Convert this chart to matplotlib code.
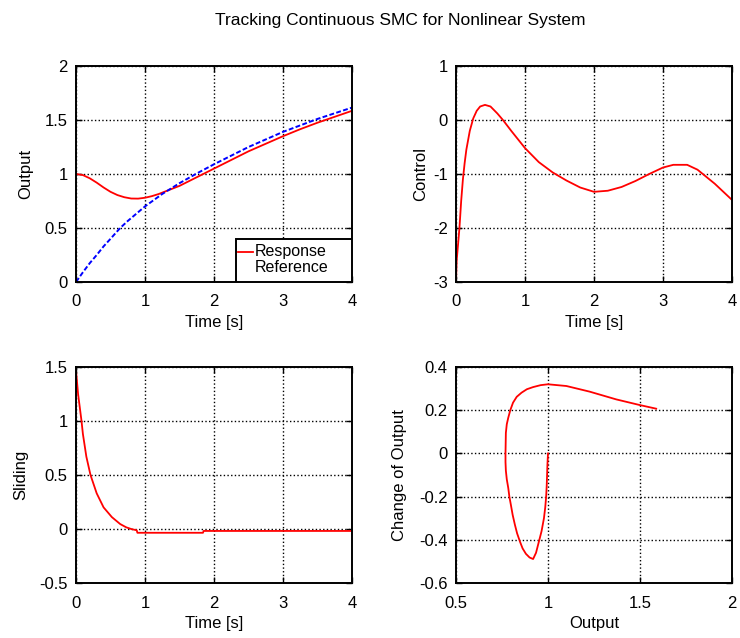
import matplotlib
matplotlib.use("Agg")
import matplotlib.pyplot as plt
from matplotlib.ticker import FormatStrFormatter
from matplotlib.patches import Rectangle

plt.rcParams['font.family'] = ['Liberation Sans', 'DejaVu Sans']
plt.rcParams['axes.unicode_minus'] = False

# ---- data ----
t_resp = [0, 0.1, 0.2, 0.3, 0.4, 0.5, 0.6, 0.7, 0.8, 0.9, 1.0, 1.1, 1.2, 1.3, 1.4,
          1.5, 1.75, 2.0, 2.25, 2.5, 2.75, 3.0, 3.25, 3.5, 3.75, 4.0]
response = [1.0, 0.99, 0.96, 0.92, 0.875, 0.835, 0.805, 0.785, 0.773, 0.772, 0.78,
            0.795, 0.815, 0.84, 0.865, 0.89, 0.97, 1.05, 1.13, 1.21, 1.28, 1.35,
            1.415, 1.475, 1.53, 1.585]

t_ref = [0, 0.1, 0.2, 0.3, 0.4, 0.5, 0.64, 0.75, 1.0, 1.25, 1.5, 1.75, 2.0, 2.5,
         3.0, 3.5, 4.0]
reference = [0.0, 0.09, 0.175, 0.25, 0.33, 0.40, 0.5, 0.565, 0.70, 0.815, 0.915,
             1.005, 1.09, 1.25, 1.39, 1.51, 1.615]

t_ctrl = [0, 0.01, 0.03, 0.05, 0.075, 0.1, 0.125, 0.15, 0.2, 0.25, 0.3, 0.35, 0.42,
          0.5, 0.6, 0.68, 0.8, 0.9, 1.0, 1.2, 1.4, 1.6, 1.8, 2.0, 2.2, 2.4, 2.6,
          2.8, 3.0, 3.15, 3.35, 3.5, 3.75, 4.0]
control = [-3.0, -2.6, -2.3, -2.0, -1.5, -1.1, -0.8, -0.55, -0.2, 0.03, 0.17,
           0.25, 0.28, 0.25, 0.12, 0.0, -0.2, -0.36, -0.52, -0.78, -0.97, -1.12,
           -1.25, -1.33, -1.31, -1.24, -1.13, -1.0, -0.88, -0.83, -0.83, -0.92,
           -1.18, -1.48]

t_slide = [0, 0.03, 0.08, 0.1, 0.15, 0.21, 0.3, 0.4, 0.52, 0.64, 0.73, 0.8, 0.88,
           0.89, 1.0, 1.5, 1.84, 1.85, 3.0, 4.0]
sliding = [1.47, 1.25, 1.0, 0.88, 0.67, 0.5, 0.33, 0.2, 0.11, 0.046, 0.015, 0.0,
           -0.012, -0.035, -0.035, -0.035, -0.035, -0.018, -0.018, -0.018]

phase_x = [1.0, 0.997, 0.995, 0.993, 0.99, 0.985, 0.978, 0.965, 0.95, 0.935,
           0.919, 0.9, 0.88, 0.862, 0.847, 0.832, 0.82, 0.808, 0.798, 0.79,
           0.784, 0.776, 0.771, 0.769, 0.769, 0.771, 0.776, 0.784, 0.795, 0.81,
           0.83, 0.856, 0.885, 0.919, 0.96, 1.0, 1.1, 1.226, 1.371, 1.498, 1.588]
phase_dx = [0.0, -0.05, -0.1, -0.15, -0.2, -0.25, -0.3, -0.36, -0.41, -0.46,
            -0.489, -0.482, -0.465, -0.44, -0.407, -0.37, -0.33, -0.285, -0.237,
            -0.2, -0.16, -0.12, -0.08, -0.04, 0.0, 0.095, 0.135, 0.165, 0.2,
            0.235, 0.262, 0.281, 0.297, 0.307, 0.316, 0.32, 0.312, 0.286, 0.25,
            0.224, 0.207]

FS = 12
fig = plt.figure(figsize=(7.4, 6.38), dpi=100)

W = 276 / 740
H = 216 / 638
lefts = [76 / 740, 456 / 740]
bottoms = [1 - 282 / 638, 1 - 583 / 638]

def make_ax(col, row):
    ax = fig.add_axes([lefts[col], bottoms[row], W, H])
    ax.grid(True, color='black', linestyle=':', linewidth=1.0)
    ax.tick_params(direction='in', top=True, right=True, labelsize=FS,
                   length=4, width=1.0, pad=6, colors='black')
    ax.tick_params(axis='x', pad=9)
    for s in ax.spines.values():
        s.set_linewidth(1.4)
    ax.xaxis.set_major_formatter(FormatStrFormatter('%g'))
    ax.yaxis.set_major_formatter(FormatStrFormatter('%g'))
    return ax

red = '#ff0000'
blue = '#0000ff'
XLP = 4

# Top-left: Output
ax1 = make_ax(0, 0)
ax1.plot(t_resp, response, color=red, lw=1.3)
ax1.plot(t_ref, reference, color=blue, lw=1.4, linestyle=(0, (2.5, 1.2)))
ax1.set_xlim(0, 4); ax1.set_ylim(0, 2)
ax1.set_xticks([0, 1, 2, 3, 4]); ax1.set_yticks([0, 0.5, 1, 1.5, 2])
ax1.set_xlabel('Time [s]', fontsize=FS, labelpad=XLP)
ax1.set_ylabel('Output', fontsize=FS)
ax1.yaxis.set_label_coords(-0.155, 0.5)
# legend (MATLAB style)
ax1.add_patch(Rectangle((0.58, 0.0), 0.42, 0.2, transform=ax1.transAxes,
                        facecolor='white', edgecolor='black', lw=1.4, zorder=5))
ax1.plot([0.587, 0.642], [0.14, 0.14], transform=ax1.transAxes, color=red, lw=1.3, zorder=6)
ax1.text(0.648, 0.142, 'Response', transform=ax1.transAxes, fontsize=11.5,
         va='center', ha='left', zorder=7)
ax1.text(0.648, 0.068, 'Reference', transform=ax1.transAxes, fontsize=11.5,
         va='center', ha='left', zorder=7)

# Top-right: Control
ax2 = make_ax(1, 0)
ax2.plot(t_ctrl, control, color=red, lw=1.3)
ax2.set_xlim(0, 4); ax2.set_ylim(-3, 1)
ax2.set_xticks([0, 1, 2, 3, 4]); ax2.set_yticks([-3, -2, -1, 0, 1])
ax2.set_xlabel('Time [s]', fontsize=FS, labelpad=XLP)
ax2.set_ylabel('Control', fontsize=FS)
ax2.yaxis.set_label_coords(-0.10, 0.5)

# Bottom-left: Sliding
ax3 = make_ax(0, 1)
ax3.plot(t_slide, sliding, color=red, lw=1.3)
ax3.set_xlim(0, 4); ax3.set_ylim(-0.5, 1.5)
ax3.set_xticks([0, 1, 2, 3, 4]); ax3.set_yticks([-0.5, 0, 0.5, 1, 1.5])
ax3.set_xlabel('Time [s]', fontsize=FS, labelpad=XLP)
ax3.set_ylabel('Sliding', fontsize=FS)
ax3.yaxis.set_label_coords(-0.174, 0.5)

# Bottom-right: phase
ax4 = make_ax(1, 1)
ax4.plot(phase_x, phase_dx, color=red, lw=1.3)
ax4.set_xlim(0.5, 2); ax4.set_ylim(-0.6, 0.4)
ax4.set_xticks([0.5, 1, 1.5, 2]); ax4.set_yticks([-0.6, -0.4, -0.2, 0, 0.2, 0.4])
ax4.set_xlabel('Output', fontsize=FS, labelpad=XLP)
ax4.set_ylabel('Change of Output', fontsize=FS)
ax4.yaxis.set_label_coords(-0.178, 0.5)

fig.text(400 / 740, 1 - 20 / 638, 'Tracking Continuous SMC for Nonlinear System',
         fontsize=12.5, ha='center', va='center')

fig.savefig('out.png', dpi=100)
